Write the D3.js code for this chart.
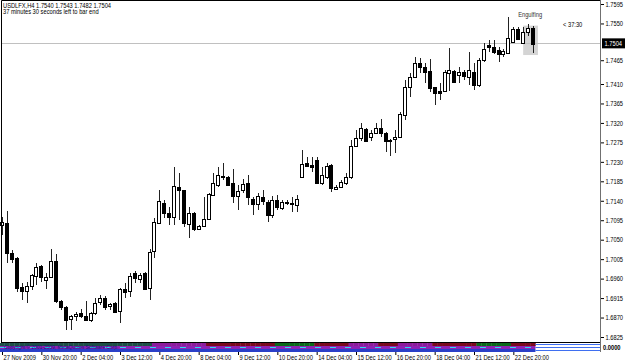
<!DOCTYPE html>
<html>
<head>
<meta charset="utf-8">
<script src="https://cdn.jsdelivr.net/npm/d3@7"></script>
<style>
  html, body { margin: 0; padding: 0; background: #fff; }
  svg { display: block; font-family: 'Liberation Sans', Arial, sans-serif; }
</style>
</head>
<body>
<svg id="chart" width="625" height="362"></svg>
<script>
const symbol = 'USDLFX,H4'
const timeLeft = '37 minutes 30 seconds left to bar end'
const countdown = '< 37:30'
const patternName = 'Engulfing'

// H4 bars, oldest first
const open = [
  1.7084, 1.7089, 1.7019, 1.7008, 1.6941, 1.6931, 1.6943, 1.6966, 1.6989, 1.6957,
  1.6964, 1.7001, 1.6908, 1.6894, 1.6867, 1.6874, 1.6881, 1.6874, 1.6864, 1.6881,
  1.6906, 1.6915, 1.6897, 1.6904, 1.6885, 1.6936, 1.6931, 1.6973, 1.6959, 1.6973,
  1.6938, 1.7024, 1.7089, 1.7135, 1.7112, 1.7103, 1.7172, 1.7165, 1.7086, 1.7112,
  1.7075, 1.7082, 1.7098, 1.7153, 1.7177, 1.7197, 1.7195, 1.7181, 1.7151, 1.7165,
  1.7181, 1.7144, 1.7133, 1.7149, 1.7137, 1.7107, 1.7142, 1.7123, 1.7137, 1.7135,
  1.7130, 1.7195, 1.7227, 1.7223, 1.7234, 1.7181, 1.7195, 1.7223, 1.7167, 1.7172,
  1.7181, 1.7195, 1.7267, 1.7285, 1.7306, 1.7288, 1.7297, 1.7308, 1.7297, 1.7281,
  1.7283, 1.7288, 1.7338, 1.7403, 1.7426, 1.7459, 1.7449, 1.7440, 1.7403, 1.7394,
  1.7394, 1.7435, 1.7440, 1.7431, 1.7438, 1.7426, 1.7438, 1.7408, 1.7466, 1.7500,
  1.7496, 1.7489, 1.7479, 1.7482, 1.7507, 1.7537, 1.7505, 1.7530, 1.7540
]
const high = [
  1.7103, 1.7116, 1.7026, 1.7010, 1.6950, 1.6952, 1.6971, 1.6996, 1.6992, 1.6973,
  1.7029, 1.7017, 1.6911, 1.6897, 1.6876, 1.6883, 1.6890, 1.6908, 1.6883, 1.6915,
  1.6922, 1.6920, 1.6904, 1.6906, 1.6938, 1.6950, 1.6973, 1.6978, 1.6973, 1.6975,
  1.7029, 1.7100, 1.7165, 1.7142, 1.7126, 1.7218, 1.7204, 1.7165, 1.7126, 1.7114,
  1.7084, 1.7149, 1.7158, 1.7204, 1.7218, 1.7227, 1.7197, 1.7214, 1.7177, 1.7190,
  1.7200, 1.7149, 1.7158, 1.7165, 1.7142, 1.7151, 1.7153, 1.7142, 1.7142, 1.7149,
  1.7153, 1.7257, 1.7241, 1.7241, 1.7241, 1.7218, 1.7227, 1.7225, 1.7177, 1.7188,
  1.7204, 1.7281, 1.7304, 1.7320, 1.7308, 1.7304, 1.7320, 1.7329, 1.7299, 1.7283,
  1.7304, 1.7345, 1.7419, 1.7435, 1.7472, 1.7470, 1.7459, 1.7468, 1.7403, 1.7412,
  1.7442, 1.7493, 1.7442, 1.7449, 1.7442, 1.7484, 1.7459, 1.7470, 1.7505, 1.7512,
  1.7512, 1.7496, 1.7491, 1.7565, 1.7542, 1.7542, 1.7542, 1.7549, 1.7543
]
const low = [
  1.7061, 1.6996, 1.6996, 1.6929, 1.6911, 1.6904, 1.6934, 1.6945, 1.6952, 1.6936,
  1.6962, 1.6904, 1.6888, 1.6841, 1.6841, 1.6862, 1.6869, 1.6862, 1.6860, 1.6876,
  1.6899, 1.6888, 1.6888, 1.6881, 1.6857, 1.6915, 1.6918, 1.6950, 1.6950, 1.6934,
  1.6911, 1.7008, 1.7089, 1.7100, 1.7084, 1.7084, 1.7096, 1.7079, 1.7054, 1.7070,
  1.7072, 1.7082, 1.7096, 1.7151, 1.7172, 1.7188, 1.7177, 1.7135, 1.7119, 1.7158,
  1.7130, 1.7107, 1.7119, 1.7130, 1.7091, 1.7100, 1.7119, 1.7119, 1.7130, 1.7114,
  1.7114, 1.7195, 1.7218, 1.7207, 1.7179, 1.7177, 1.7190, 1.7160, 1.7165, 1.7170,
  1.7177, 1.7190, 1.7264, 1.7278, 1.7276, 1.7278, 1.7294, 1.7288, 1.7253, 1.7244,
  1.7251, 1.7288, 1.7327, 1.7380, 1.7424, 1.7435, 1.7412, 1.7392, 1.7361, 1.7373,
  1.7392, 1.7394, 1.7412, 1.7412, 1.7419, 1.7408, 1.7396, 1.7403, 1.7461, 1.7484,
  1.7479, 1.7461, 1.7472, 1.7479, 1.7505, 1.7512, 1.7503, 1.7521, 1.7482
]
const close = [
  1.7091, 1.7019, 1.7005, 1.6938, 1.6931, 1.6943, 1.6968, 1.6987, 1.6964, 1.6964,
  1.7001, 1.6908, 1.6894, 1.6864, 1.6874, 1.6878, 1.6874, 1.6864, 1.6881, 1.6904,
  1.6915, 1.6894, 1.6901, 1.6883, 1.6936, 1.6929, 1.6966, 1.6962, 1.6968, 1.6936,
  1.7022, 1.7091, 1.7140, 1.7112, 1.7103, 1.7174, 1.7165, 1.7089, 1.7112, 1.7075,
  1.7082, 1.7098, 1.7156, 1.7181, 1.7200, 1.7195, 1.7177, 1.7151, 1.7163, 1.7179,
  1.7149, 1.7133, 1.7151, 1.7140, 1.7107, 1.7142, 1.7126, 1.7137, 1.7135, 1.7133,
  1.7144, 1.7225, 1.7220, 1.7218, 1.7181, 1.7200, 1.7220, 1.7170, 1.7172, 1.7183,
  1.7195, 1.7267, 1.7285, 1.7308, 1.7278, 1.7297, 1.7308, 1.7297, 1.7278, 1.7278,
  1.7288, 1.7341, 1.7403, 1.7426, 1.7459, 1.7449, 1.7438, 1.7401, 1.7389, 1.7389,
  1.7438, 1.7442, 1.7415, 1.7438, 1.7429, 1.7442, 1.7408, 1.7466, 1.7491, 1.7496,
  1.7484, 1.7479, 1.7486, 1.7516, 1.7537, 1.7514, 1.7530, 1.7540, 1.7504
]

const dateTicks = [0, 8, 16, 24, 32, 40, 48, 56, 64, 72, 80, 88, 96, 104]
const dateLabels = [
  '27 Nov 2009', '30 Nov 20:00', '2 Dec 04:00', '3 Dec 12:00', '4 Dec 20:00',
  '8 Dec 04:00', '9 Dec 12:00', '10 Dec 20:00', '14 Dec 04:00', '15 Dec 12:00',
  '16 Dec 20:00', '18 Dec 04:00', '21 Dec 12:00', '22 Dec 20:00'
]
const priceTicks = [
  1.7595, 1.7550, 1.7465, 1.7410, 1.7365, 1.7320, 1.7275, 1.7230, 1.7185,
  1.7140, 1.7095, 1.7050, 1.7005, 1.6960, 1.6915, 1.6870, 1.6825
]

// engulfing box: first bar, end bar, top, bottom
const patternBars = [106, 109]
const patternPrices = [1.7545, 1.7477]

// indicator sub window state per bar: n navy, p purple, r maroon, g green
const stripState =
  'nnnnnnnnnnnnnnnnnnnnnnnnnnnnnnn' +
  'ppppppppppp' +
  'rrrrrrrrrrrrrr' +
  'gggggggg' +
  'rrrrrrr' +
  'pppppp' +
  'rrrr' +
  'ppppppp' +
  'rrrrrrrrr' +
  'ggggggg' +
  'rrrrr'

const stateColor = { n: '#1d4f46', p: '#8c1c9c', r: '#7a0a1e', g: '#0a6a1a' }

const plot = { left: 1, right: 600, top: 0, bottom: 342 }
const stripTop = 343
const stripBottom = 352
const fontSize = 7
// terminal font is narrow, squeeze the glyphs horizontally
const squeeze = 0.82

const svg = d3.select('#chart')
const x = d3.scaleLinear()
  .domain([0, 108])
  .range([2, 533])
const y = d3.scaleLinear()
  .domain([1.6825, 1.7595])
  .range([337, 4])
const barStep = x(1) - x(0)
const px = i => Math.round(x(i))

const bars = open.map((o, i) => ({ i, o, h: high[i], l: low[i], c: close[i] }))
const last = bars[bars.length - 1]

function label (parent, lx, ly, txt) {
  return parent.append('text')
    .attr('transform', `translate(${lx}, ${ly}) scale(${squeeze}, 1)`)
    .attr('font-size', fontSize)
    .text(txt)
}

// pattern highlight sits under the candles
svg.append('rect')
  .attr('x', x(patternBars[0]))
  .attr('y', y(patternPrices[0]))
  .attr('width', x(patternBars[1]) - x(patternBars[0]))
  .attr('height', y(patternPrices[1]) - y(patternPrices[0]))
  .attr('fill', '#d4d4d4')

// bid line
svg.append('line')
  .attr('x1', plot.left)
  .attr('x2', plot.right)
  .attr('y1', Math.round(y(last.c)) + 0.5)
  .attr('y2', Math.round(y(last.c)) + 0.5)
  .attr('stroke', '#c0c0c0')

const candles =
  svg.append('g')
    .attr('shape-rendering', 'crispEdges')
    .selectAll('g')
    .data(bars)
    .join('g')

candles.append('line')
  .attr('x1', d => px(d.i) + 0.5)
  .attr('x2', d => px(d.i) + 0.5)
  .attr('y1', d => y(d.h))
  .attr('y2', d => y(d.l))
  .attr('stroke', '#222')

candles.append('rect')
  .attr('x', d => px(d.i) - 1.5)
  .attr('y', d => Math.round(y(Math.max(d.o, d.c))) + 0.5)
  .attr('width', 3)
  .attr('height', d => Math.max(1, Math.round(Math.abs(y(d.o) - y(d.c)))))
  .attr('fill', d => d.c >= d.o ? '#fff' : '#000')
  .attr('stroke', '#000')

// frame
svg.append('path')
  .attr('d', `M${plot.left + 0.5},${plot.bottom + 0.5}V0.5H${plot.right}`)
  .attr('fill', 'none')
  .attr('stroke', '#000')
svg.append('line')
  .attr('x1', plot.left)
  .attr('x2', plot.right)
  .attr('y1', plot.bottom + 0.5)
  .attr('y2', plot.bottom + 0.5)
  .attr('stroke', '#000')

// indicator sub window
const strip = svg.append('g')
strip.selectAll('rect.state')
  .data(bars)
  .join('rect')
  .attr('class', 'state')
  .attr('x', d => x(d.i) - barStep / 2)
  .attr('y', stripTop)
  .attr('width', barStep + 0.3)
  .attr('height', 3)
  .attr('fill', d => stateColor[stripState[d.i]] || stateColor.r)
strip.append('rect')
  .attr('x', 0)
  .attr('y', stripTop + 3)
  .attr('width', x(108) + barStep / 2)
  .attr('height', 3)
  .attr('fill', '#8e22b4')
strip.append('rect')
  .attr('x', 0)
  .attr('y', stripTop + 6)
  .attr('width', x(108) + barStep / 2)
  .attr('height', 3)
  .attr('fill', '#2a3fc8')
strip.append('line')
  .attr('x1', 0)
  .attr('x2', x(108) + barStep / 2)
  .attr('y1', stripTop + 4.5)
  .attr('y2', stripTop + 4.5)
  .attr('stroke', '#30d8f0')
  .attr('stroke-dasharray', '6,9')
strip.selectAll('line.level')
  .data([1.5, 4.5, 7.5])
  .join('line')
  .attr('class', 'level')
  .attr('x1', x(108) + barStep / 2)
  .attr('x2', plot.right)
  .attr('y1', d => stripTop + d)
  .attr('y2', d => stripTop + d)
  .attr('stroke', '#3f6ff0')
label(strip, 4, stripTop + 6, 'Copyright © 2001-2009, MetaQuotes Software Corp.')
  .attr('font-size', 6)
  .attr('fill', '#0a1a80')
label(strip, plot.right + 3, stripTop + 7, '0.0000')
  .attr('font-weight', 'bold')

// right price axis
svg.append('line')
  .attr('x1', plot.right + 0.5)
  .attr('x2', plot.right + 0.5)
  .attr('y1', 0)
  .attr('y2', stripBottom)
  .attr('stroke', '#707070')

const yAxis =
  d3.axisRight(y)
    .tickValues(priceTicks)
    .tickSize(3)
    .tickPadding(0)
    .tickFormat(d3.format('.4f'))

svg.append('g')
  .attr('transform', `translate(${plot.right + 1}, 0)`)
  .call(yAxis)
  .call(g => g.select('.domain').remove())
  .call(g => g.selectAll('text')
    .attr('x', null)
    .attr('transform', `translate(4.5, 0) scale(${squeeze}, 1)`)
    .attr('font-size', fontSize)
    .attr('font-family', null)
    .attr('fill', '#000'))

const bidY = y(last.c)
svg.append('rect')
  .attr('x', plot.right + 2)
  .attr('y', bidY - 5)
  .attr('width', 23)
  .attr('height', 10)
  .attr('fill', '#000')
label(svg, plot.right + 4.5, bidY + 2.4, d3.format('.4f')(last.c))
  .attr('fill', '#fff')

// bottom time axis
const xAxis =
  d3.axisBottom(x)
    .tickValues(dateTicks)
    .tickSize(3)
    .tickFormat((d, i) => dateLabels[i])

svg.append('g')
  .attr('transform', `translate(0, ${stripBottom})`)
  .call(xAxis)
  .call(g => g.select('.domain').remove())
  .call(g => g.selectAll('text')
    .attr('y', null)
    .attr('dy', null)
    .attr('text-anchor', 'start')
    .attr('transform', `translate(1, 8) scale(${squeeze}, 1)`)
    .attr('font-size', fontSize)
    .attr('font-family', null)
    .attr('fill', '#000'))

// header texts
label(svg, 3, 7.5, `${symbol}  ${[last.o, last.h, last.l, last.c].map(d3.format('.4f')).join(' ')}`)
label(svg, 3, 14, timeLeft)
label(svg, x(patternBars[0]) - 5, 17, patternName)
  .attr('fill', '#333')
label(svg, 563, 27, countdown)
</script>
</body>
</html>
